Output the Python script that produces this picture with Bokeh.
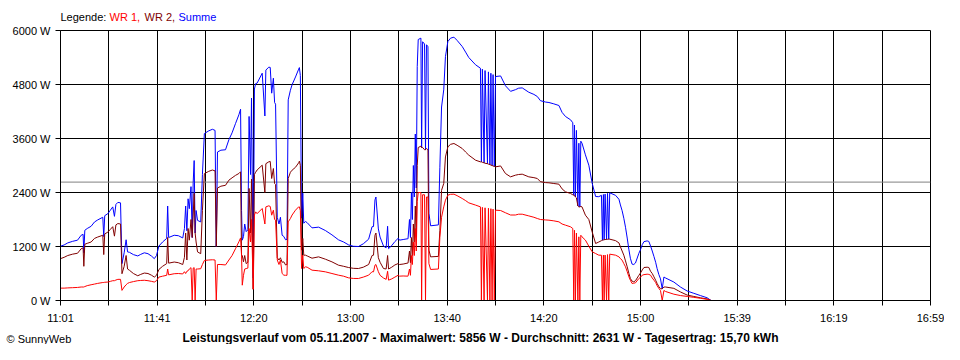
from bokeh.plotting import figure
from bokeh.layouts import column
from bokeh.models import (Range1d, FixedTicker, PrintfTickFormatter, CustomJSTickFormatter,
                          Span, ColumnDataSource)
from bokeh.core.properties import value
from bokeh.embed import file_html
from bokeh.resources import INLINE

# minutes after 11:01
zeit_min = [
    0, 1.5, 3, 5, 7, 8.5, 9.3, 9.6, 10.0, 11, 12.6, 14, 15.3, 17.4, 17.8, 18.2, 19.5, 20.5,
    21.5, 22.2, 22.8, 23.6, 24.7, 25.3, 26.2, 27.0, 27.6, 28.4, 30, 31.8, 33, 34.5, 36, 37.5,
    38.6, 39.5, 40.5, 42, 43.7, 44.1, 44.5, 46.8, 48.5, 50.3, 51.0, 51.5, 52.0, 52.5, 53.0,
    53.7, 54.2, 54.6, 55.0, 55.4, 55.8, 56.4, 57.7, 58.4, 59.2, 61.0, 62.5, 63.6, 64.1, 64.6,
    66.0, 67.9, 69.3, 70.6, 72.0, 73.4, 74.1,
    74.5, 74.8, 75.3, 75.8, 76.4, 77.1, 77.6, 78.2, 78.6, 79.3, 79.8, 80.3, 80.9, 83.0, 84.1,
    84.5, 85.7, 86.3, 86.9, 87.6, 88.1, 88.5, 89.2, 89.9, 90.5, 91.2, 91.9, 92.6, 93.2, 93.7,
    94.6, 95.3, 96.7, 98.0, 98.3, 98.7, 99.2, 99.7, 100.1, 100.8, 101.5, 103.5, 106.2, 109.0,
    111.7, 114.4, 116.5, 118.5, 120.5, 122.6, 124.6, 126.8, 128.2, 128.8, 129.4, 129.8, 130.8,
    131.5, 132.9, 134.0, 134.6, 135.0, 136.3, 137.6, 139.0,
    139.5, 141.0, 142.7, 143.0, 143.6, 144.0, 144.4, 144.8, 145.2, 145.6, 146.0, 146.4, 146.8,
    147.2, 148.3, 148.6, 149.0, 149.8, 150.2, 150.6, 151.2, 151.6, 152.3, 155.5, 156.1, 156.8,
    157.7, 158.4, 159.4, 160.5, 161.9, 163.2, 165.3, 166.7, 168.0, 170.8, 172.8, 173.2, 173.6,
    174.3, 174.7, 175.7, 176.1, 176.7, 177.1, 177.6, 178.0, 178.5, 179.0, 181.1, 183.1, 185.2,
    187.2, 188.5, 190.0, 192.7, 194.8, 196.2, 197.5, 199.6, 201.0, 203.0, 205.1, 206.4, 207.8,
    209.9, 210.8, 211.2,
    211.5, 211.9, 212.3, 212.9, 213.3, 213.7, 214.1, 214.6, 216.0, 217.4, 218.8, 220.2, 221.5,
    222.6, 223.0, 223.4, 223.7, 224.1, 224.7, 225.1, 225.6, 226.0, 228.4, 229.8, 230.4, 231.1,
    231.8, 232.5, 233.2, 233.9, 234.5, 235.2, 235.9, 236.6, 238.0, 238.7, 239.4, 240.1, 241.4,
    242.1, 242.8, 243.5, 244.2, 244.9, 245.5, 246.2, 246.9, 247.6, 248.3, 249.0, 252.4, 255.1,
    257.9, 260.6, 263.3, 266.1, 267.7,
]

wr1 = [
    275, 275, 280, 285, 290, 300, 300, 300, 310, 330, 350, 365, 380, 400, 400, 405, 410, 425,
    440, 440, 455, 470, 470, 225, 300, 350, 380, 400, 420, 440, 445, 450, 440, 425,
    410, 440, 520, 540, 560, 700, 570, 595, 600, 590, 640, 600, 650, 660, 700,
    730, 0, 720, 730, 0, 700, 700, 706, 800, 890, 900, 905, 900, 0, 800,
    800, 790, 900, 1000, 1150, 1304, 1390,
    1000, 340, 560, 700, 710, 720, 1600, 1300, 1800, 250, 1900, 1970, 1930, 2044, 1700,
    2080, 2104, 2090, 1896, 2007, 1800, 1785, 900, 800, 900, 600, 563, 560, 560, 1748,
    1822, 1900, 2007, 2081, 2080, 2000, 711, 1007, 711, 748, 740, 674, 660, 637,
    600, 563, 540, 504, 490, 489, 520, 563, 640, 637, 785, 800, 640,
    560, 500, 470, 650, 452, 480, 520, 563,
    541, 545, 541, 540, 700, 560, 1000, 800, 1300, 1000, 1600, 1100, 2200,
    2400, 2400, 0, 2350, 2350, 0, 2300, 2300, 820, 690, 700, 1400, 1850,
    2081, 2230, 2341, 2360, 2363, 2330, 2267, 2220, 2170, 2120, 2081, 0, 2070,
    0, 2060, 0, 2050, 0, 2040, 0, 2030, 0, 2007, 2000, 1950, 1900,
    1900, 1918, 1918, 1880, 1850, 1822, 1800, 1790, 1785, 1770, 1748, 1700, 1674,
    1637, 1600, 0,
    1560, 0, 1500, 0, 1415, 0, 1450, 1415, 1341, 1207, 1081, 1044, 1007,
    1007, 0, 1010, 0, 1010, 0, 1020, 0, 1030, 1007, 970, 930, 896,
    820, 748, 640, 526, 450, 378, 385, 393, 489, 520, 563, 575, 585,
    580, 563, 500, 452, 400, 330, 270, 220, 0, 222, 200, 140, 110,
    90, 70, 50, 25, 0,
]

wr2 = [
    930, 960, 1000, 1030, 1050, 1150, 1170, 760, 1250, 1270, 1300, 1380, 1410, 1450, 1020, 1480, 1520, 1580,
    1640, 1430, 1680, 1710, 1700, 595, 760, 1000, 700, 670, 600, 550, 580, 610, 600, 560,
    520, 560, 690, 760, 820, 1400, 830, 855, 840, 800, 960, 1500, 900, 1600, 1340,
    1800, 1400, 1900, 2380, 1500, 1300, 1080, 1040, 2000, 2820, 2870, 2900, 2880, 1200, 2500,
    2540, 2560, 2674, 2726, 2780, 2822, 2860,
    1000, 1000, 860, 1000, 820, 850, 2490, 1500, 2700, 250, 2800, 2850, 2900, 3007, 2400,
    3040, 3081, 3090, 2711, 2933, 2600, 2578, 950, 900, 950, 850, 859, 790, 800, 2711,
    2850, 2896, 2960, 3060, 3096, 3000, 1118, 1378, 1007, 1007, 990, 940, 970, 918,
    859, 785, 760, 733, 715, 711, 740, 800, 1000, 1007, 1450, 1500, 950,
    850, 711, 700, 1000, 700, 740, 790, 822,
    800, 810, 830, 830, 1100, 840, 1400, 1000, 1700, 1300, 2100, 1400, 3000,
    3400, 3430, 3400, 3400, 3350, 3350, 3380, 3350, 1120, 970, 980, 1550, 2450,
    2600, 3190, 3414, 3470, 3489, 3450, 3378, 3300, 3230, 3118, 3081, 3080, 3070,
    3060, 3050, 3040, 3030, 3020, 3010, 3000, 2990, 2980, 2970, 2990, 2822, 2748,
    2785, 2800, 2807, 2748, 2730, 2711, 2640, 2620, 2615, 2600, 2585, 2480, 2415,
    2378, 2350, 2341,
    2340, 2300, 2280, 2100, 2080, 2080, 2090, 2081, 1896, 1800, 1520, 1267, 1300,
    1330, 1340, 1345, 1350, 1355, 1358, 1360, 1363, 1363, 1330, 1280, 1193, 1100,
    1007, 880, 748, 600, 489, 430, 415, 440, 560, 615, 680, 733, 740,
    733, 650, 600, 526, 450, 380, 310, 260, 260, 300, 300, 270, 190,
    120, 90, 60, 35, 0,
]

summe = [a + b for a, b in zip(wr1, wr2)]

x_labels = ["11:01", "11:41", "12:20", "13:00", "13:40", "14:20", "15:00", "15:39", "16:19", "16:59"]
x_spanne = 358  # 11:01 .. 16:59
y_ticks = [0, 1200, 2400, 3600, 4800, 6000]
durchschnitt = 2631
legende_texte = ["Legende:", "WR 1,", "WR 2,", "Summe"]
legende_farben = ["#000000", "#FF0000", "#800000", "#0000FF"]
titel = "Leistungsverlauf vom 05.11.2007 - Maximalwert: 5856 W - Durchschnitt: 2631 W - Tagesertrag: 15,70 kWh"
copyright_text = "\u00a9 SunnyWeb"

FONT = "Liberation Sans"
W = 944
LEFT, RIGHT = 60, 14          # plot borders; header/footer frames align to these
H_HEAD, H_FOOT = 23, 16
TOP_MAIN, BOTTOM_MAIN = 7, 28
H_MAIN = TOP_MAIN + 270 + BOTTOM_MAIN


def text_strip(height):
    f = figure(width=W, height=height, output_backend="svg", toolbar_location=None,
               x_range=Range1d(LEFT, W - RIGHT), y_range=Range1d(height, 0),
               x_axis_type=None, y_axis_type=None,
               min_border_left=LEFT, min_border_right=RIGHT,
               min_border_top=0, min_border_bottom=0)
    f.title.visible = False
    f.outline_line_color = None
    f.background_fill_color = "white"
    f.border_fill_color = "white"
    f.grid.visible = False
    return f


# ---------- header (legend line) ----------
head = text_strip(H_HEAD)
head.text(x=[60, 109, 144, 178], y=[16.5] * 4, text=legende_texte, text_color=legende_farben,
          text_baseline="middle", text_align="left", text_font=value(FONT), text_font_size="11px")

# ---------- main chart ----------
src = ColumnDataSource(dict(t=zeit_min, wr1=wr1, wr2=wr2, summe=summe))

p = figure(width=W, height=H_MAIN, output_backend="svg", toolbar_location=None,
           x_range=Range1d(0, x_spanne), y_range=Range1d(0, 6000),
           min_border_left=LEFT, min_border_right=RIGHT,
           min_border_top=TOP_MAIN, min_border_bottom=BOTTOM_MAIN)
p.title.visible = False
p.background_fill_color = "white"
p.border_fill_color = "white"
p.outline_line_color = "black"
p.outline_line_width = 1

step = x_spanne / (len(x_labels) - 1)
major = [i * step for i in range(len(x_labels))]
minor = [(i + 0.5) * step for i in range(len(x_labels) - 1)]
xt = FixedTicker(ticks=major, minor_ticks=minor)
p.xaxis.ticker = xt
p.xgrid.ticker = xt
p.xaxis.formatter = CustomJSTickFormatter(
    args=dict(labels=x_labels, step=step),
    code="const i = Math.round(tick / step); return (i >= 0 && i < labels.length) ? labels[i] : '';")

yt = FixedTicker(ticks=y_ticks, minor_ticks=[])
p.yaxis.ticker = yt
p.ygrid.ticker = yt
p.yaxis.formatter = PrintfTickFormatter(format="%d W")

for g in (p.xgrid, p.ygrid):
    g.grid_line_color = "black"
    g.grid_line_width = 1
    g.grid_line_alpha = 1.0
p.xgrid.minor_grid_line_color = "black"

for ax in (p.xaxis, p.yaxis):
    ax.axis_line_color = "black"
    ax.major_tick_line_color = "black"
    ax.major_tick_out = 5
    ax.major_tick_in = 0
    ax.major_label_text_font = FONT
    ax.major_label_text_font_size = "11px"
    ax.major_label_text_font_style = "normal"
    ax.major_label_text_color = "black"
p.xaxis.minor_tick_line_color = "black"
p.xaxis.minor_tick_out = 5
p.xaxis.minor_tick_in = 0
p.yaxis.minor_tick_line_color = None
p.xaxis.major_label_standoff = 6
p.yaxis.major_label_standoff = 5

avg = Span(location=durchschnitt, dimension="width", line_color="#808080", line_width=1, level="underlay")
p.add_layout(avg)

p.line("t", "summe", source=src, line_color="#0000FF", line_width=1)
p.line("t", "wr2", source=src, line_color="#800000", line_width=1)
p.line("t", "wr1", source=src, line_color="#FF0000", line_width=1)

# ---------- footer (title + copyright) ----------
foot = text_strip(H_FOOT)
foot.text(x=[480], y=[9], text=[titel], text_color="black", text_baseline="middle",
          text_align="center", text_font=value(FONT), text_font_size="12px", text_font_style="bold")
cr = foot.text(x=[6], y=[10], text=[copyright_text], text_color="black", text_baseline="middle",
               text_align="left", text_font=value(FONT), text_font_size="11px")
cr.level = "overlay"

layout = column(head, p, foot, spacing=0)
open("out.html", "w").write(file_html(layout, INLINE))
